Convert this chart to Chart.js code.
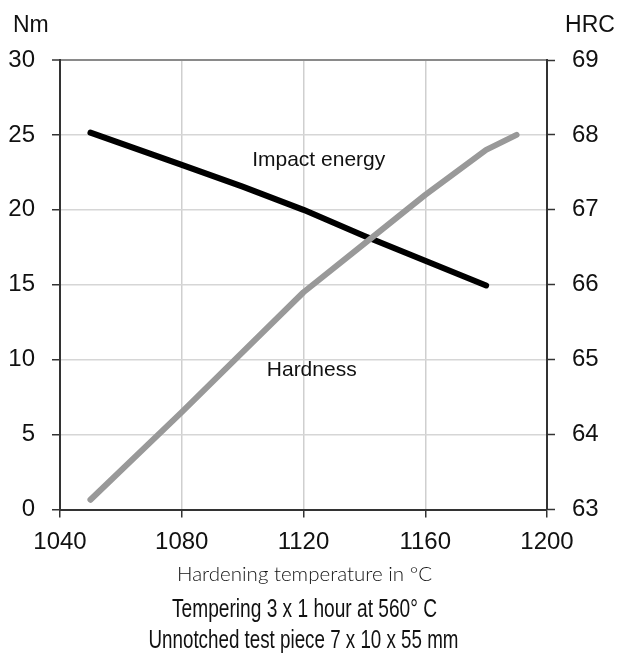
<!DOCTYPE html>
<html>
<head>
<meta charset="utf-8">
<title>Hardening temperature chart</title>
<script src="https://cdn.jsdelivr.net/npm/chart.js@4/dist/chart.umd.min.js"></script>
<style>
    html, body { margin: 0; padding: 0; background: #fff; }
    #chart { display: block; }
</style>
</head>
<body>
<canvas id="chart" width="625" height="659"></canvas>
<script>
(function () {
    "use strict";

    // =============================
    // Data
    // =============================
    const impactTemps  = [1050, 1080, 1100, 1120, 1140, 1160, 1180];
    const impactEnergy = [25.15, 23.0, 21.55, 20.0, 18.25, 16.6, 14.95];   // Nm

    const hardnessTemps = [1050, 1080, 1100, 1120, 1140, 1160, 1180, 1190];
    const hardnessHRC   = [63.13, 64.3, 65.1, 65.9, 66.55, 67.2, 67.8, 68.0]; // HRC

    const xTicks   = [1040, 1080, 1120, 1160, 1200];
    const nmTicks  = [0, 5, 10, 15, 20, 25, 30];
    const hrcTicks = [63, 64, 65, 66, 67, 68, 69];

    const texts = {
        leftUnit : "Nm",
        rightUnit: "HRC",
        impact   : "Impact energy",
        hardness : "Hardness",
        xTitle   : "Hardening temperature in °C",
        note1    : "Tempering 3 x 1 hour at 560° C",
        note2    : "Unnotched test piece 7 x 10 x 55 mm"
    };

    const SANS   = "'Liberation Sans', Arial, sans-serif";
    const NARROW = "'Liberation Sans Narrow', 'Liberation Sans', sans-serif";
    const GEO    = "Lato, 'Noto Sans', sans-serif";

    function toPoints(xs, ys) {
        return xs.map((x, i) => ({ x: x, y: ys[i] }));
    }

    // draw centred text squeezed/stretched to the width it has in the reference
    function fitText(ctx, text, font, cx, baseline, width) {
        ctx.save();
        ctx.font = font;
        const w = ctx.measureText(text).width;
        ctx.translate(cx, baseline);
        ctx.scale(width / w, 1);
        ctx.textAlign = "center";
        ctx.fillText(text, 0, 0);
        ctx.restore();
    }

    // =============================
    // Labels plugin
    // =============================
    const labelsPlugin = {
        id: "labels",
        afterDraw(chart) {
            const ctx = chart.ctx;
            const xs = chart.scales.x;
            const ys = chart.scales.y;
            ctx.save();
            ctx.fillStyle = "#111";
            ctx.textBaseline = "alphabetic";

            ctx.font = `23px ${SANS}`;
            ctx.textAlign = "left";
            ctx.fillText(texts.leftUnit, 13, 32);
            ctx.textAlign = "center";
            ctx.fillText(texts.rightUnit, 590, 32);

            ctx.font = `21px ${SANS}`;
            ctx.textBaseline = "middle";
            ctx.fillText(texts.impact, xs.getPixelForValue(1125), ys.getPixelForValue(23.3));
            ctx.fillText(texts.hardness, xs.getPixelForValue(1122.7), ys.getPixelForValue(9.3));

            const cx = (chart.chartArea.left + chart.chartArea.right) / 2;
            ctx.textBaseline = "alphabetic";
            fitText(ctx, texts.xTitle, `300 20px ${GEO}`, cx + 1, 580.5, 255);
            fitText(ctx, texts.note1, `400 25px ${NARROW}`, cx + 1, 616.5, 265);
            fitText(ctx, texts.note2, `400 25px ${NARROW}`, cx, 648, 310);
            ctx.restore();
        }
    };

    // =============================
    // Chart
    // =============================
    const tickFont = { family: SANS, size: 24 };

    new Chart(document.getElementById("chart"), {
        type: "line",
        data: {
            datasets: [{
                label: texts.hardness,
                data: toPoints(hardnessTemps, hardnessHRC),
                yAxisID: "y1",
                borderColor: "#999999",
                borderWidth: 6,
                borderCapStyle: "round",
                borderJoinStyle: "round",
                pointRadius: 0,
                fill: false,
                tension: 0,
                order: 0
            }, {
                label: texts.impact,
                data: toPoints(impactTemps, impactEnergy),
                yAxisID: "y",
                borderColor: "#000000",
                borderWidth: 6,
                borderCapStyle: "round",
                borderJoinStyle: "round",
                pointRadius: 0,
                fill: false,
                tension: 0,
                order: 1
            }]
        },
        options: {
            responsive: false,
            animation: false,
            devicePixelRatio: 1,
            layout: { padding: { top: 60, left: 0, right: 0, bottom: 0 } },
            plugins: {
                legend: { display: false },
                tooltip: { enabled: false }
            },
            scales: {
                x: {
                    type: "linear",
                    min: xTicks[0],
                    max: xTicks[xTicks.length - 1],
                    afterBuildTicks: (s) => { s.ticks = xTicks.map(v => ({ value: v })); },
                    afterFit: (s) => { s.height = 149.5; },
                    ticks: {
                        font: tickFont,
                        color: "#111",
                        padding: 10,
                        maxRotation: 0,
                        callback: (v) => String(v)
                    },
                    grid: {
                        color: (c) => (c.tick && (c.tick.value === 1040 || c.tick.value === 1200)) ? "rgba(0,0,0,0)" : "#cfcfcf",
                        lineWidth: 1.5,
                        tickLength: 8,
                        tickColor: "#333",
                        tickWidth: 1.5
                    },
                    border: { color: "#333", width: 2 }
                },
                y: {
                    position: "left",
                    min: 0,
                    max: 30,
                    afterBuildTicks: (s) => { s.ticks = nmTicks.map(v => ({ value: v })); },
                    afterFit: (s) => { s.width = 60; },
                    ticks: { font: tickFont, color: "#111", padding: 17 },
                    grid: {
                        color: (c) => {
                            if (!c.tick) return "#d6d6d6";
                            if (c.tick.value === 0) return "rgba(0,0,0,0)";
                            if (c.tick.value === 30) return "#8a8a8a";
                            return "#d6d6d6";
                        },
                        lineWidth: (c) => (c.tick && c.tick.value === 30) ? 2 : 1.5,
                        tickLength: 8,
                        tickColor: "#333",
                        tickWidth: 1.5
                    },
                    border: { color: "#333", width: 2 }
                },
                y1: {
                    position: "right",
                    min: 63,
                    max: 69,
                    afterBuildTicks: (s) => { s.ticks = hrcTicks.map(v => ({ value: v })); },
                    afterFit: (s) => { s.width = 78; },
                    ticks: { font: tickFont, color: "#111", padding: 17 },
                    grid: {
                        drawOnChartArea: false,
                        tickLength: 8,
                        tickColor: "#333",
                        tickWidth: 1.5
                    },
                    border: { color: "#333", width: 2 }
                }
            }
        },
        plugins: [labelsPlugin]
    });
})();
</script>
</body>
</html>
